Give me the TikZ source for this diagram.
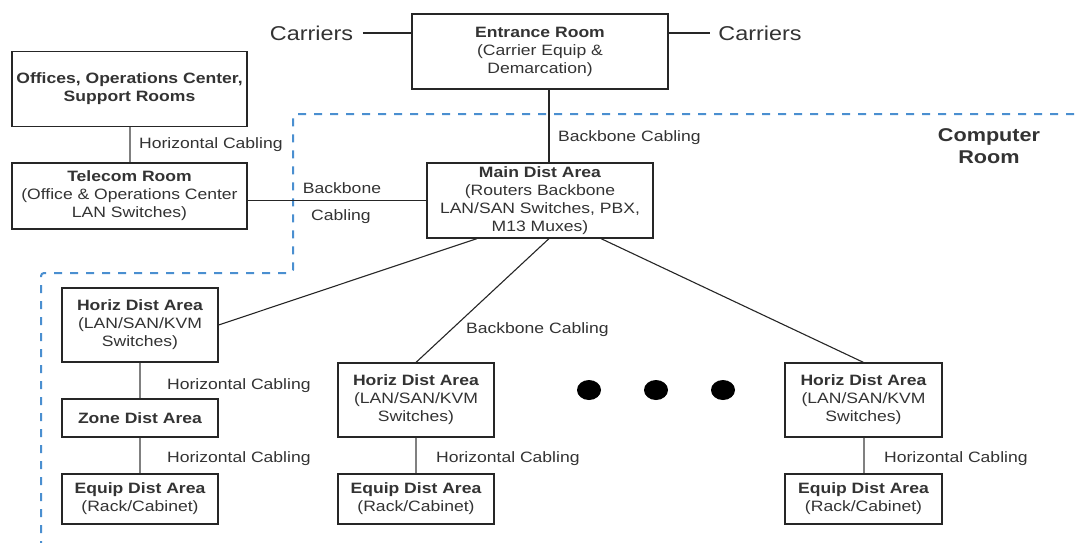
\documentclass[tikz,border=0pt]{standalone}
\usepackage{fontspec}
\setmainfont{Liberation Sans}[FakeStretch=1.17]
\usetikzlibrary{calc}
\definecolor{txt}{HTML}{333333}
\definecolor{bord}{HTML}{262626}
\definecolor{conn}{HTML}{808080}
\definecolor{roomblue}{HTML}{4A8FD0}
\begin{document}
\begin{tikzpicture}[x=1pt,y=-1pt,
  box/.style={draw=bord, line width=1.2pt, text=txt, align=center, inner sep=0pt, font=\fontsize{15}{18}\selectfont},
  lbl/.style={text=txt, inner sep=0pt, anchor=west, font=\fontsize{15}{18}\selectfont},
  carr/.style={text=txt, inner sep=0pt, font=\fontsize{20}{24}\selectfont},
  vline/.style={draw=conn, line width=2pt},
  dline/.style={draw=bord, line width=1.1pt},
  roomline/.style={draw=roomblue, line width=2pt, dash pattern=on 8pt off 8pt, rounded corners=3pt},
]
\useasboundingbox (0,0) rectangle (1076,542);
\clip (0,0) rectangle (1076,542);
\fill[white] (0,0) rectangle (1076,542);

% computer room boundary
\draw[roomline] (1090,114) -- (293,114) -- (293,273) -- (41,273) -- (41,560);

% boxes
\node[box, minimum width=256pt, minimum height=75pt] (ent) at (540,51.5) {\textbf{Entrance Room}\\(Carrier Equip \&\\Demarcation)};
\node[box, minimum width=235pt, minimum height=75pt] (off) at (129.5,89) {\textbf{Offices, Operations Center,}\\\textbf{Support Rooms}};
\node[box, minimum width=235pt, minimum height=66pt] (tel) at (129.5,196) {\textbf{Telecom Room}\\(Office \& Operations Center\\LAN Switches)};
\node[box, minimum width=226pt, minimum height=75pt] (main) at (540,200.5) {\textbf{Main Dist Area}\\(Routers Backbone\\LAN/SAN Switches, PBX,\\M13 Muxes)};
\node[box, minimum width=156pt, minimum height=74pt] (hda1) at (140,325) {\textbf{Horiz Dist Area}\\(LAN/SAN/KVM\\Switches)};
\node[box, minimum width=156pt, minimum height=38pt] (zone) at (140,418) {\textbf{Zone Dist Area}};
\node[box, minimum width=156pt, minimum height=50pt] (eda1) at (140,499) {\textbf{Equip Dist Area}\\(Rack/Cabinet)};
\node[box, minimum width=156pt, minimum height=74pt] (hda2) at (416,400) {\textbf{Horiz Dist Area}\\(LAN/SAN/KVM\\Switches)};
\node[box, minimum width=156pt, minimum height=50pt] (eda2) at (416,499) {\textbf{Equip Dist Area}\\(Rack/Cabinet)};
\node[box, minimum width=157pt, minimum height=74pt] (hda3) at (863.5,400) {\textbf{Horiz Dist Area}\\(LAN/SAN/KVM\\Switches)};
\node[box, minimum width=157pt, minimum height=50pt] (eda3) at (863.5,499) {\textbf{Equip Dist Area}\\(Rack/Cabinet)};

% carriers
\node[carr] (carl) at (311.5,33) {Carriers};
\node[carr] (carr) at (760,33) {Carriers};
\draw[dline] ([xshift=9.5pt]carl.east) -- (carl.east -| ent.west);
\draw[dline] (carr.west -| ent.east) -- ([xshift=-8pt]carr.west);

% computer room label
\node[text=txt, align=center, inner sep=0pt, font=\bfseries\fontsize{18.5}{22}\selectfont] (croom) at (989,146) {Computer\\Room};

% connectors
\draw[dline] ([xshift=9pt]ent.south) -- ([xshift=9pt]main.north);
\draw[dline] (tel.east |- main.west) -- (main.west);
\draw[vline] (off.south) -- (tel.north);
\draw[dline] ([xshift=-63pt]main.south) -- (hda1.east);
\draw[dline] ([xshift=9pt]main.south) -- (hda2.north);
\draw[dline] ([xshift=61pt]main.south) -- (hda3.north);
\draw[vline] (hda1.south) -- (zone.north);
\draw[vline] (zone.south) -- (eda1.north);
\draw[vline] (hda2.south) -- (eda2.north);
\draw[vline] (hda3.south) -- (eda3.north);

% labels
\node[lbl] (l1) at (139,145) {Horizontal Cabling};
\node[lbl] (l2) at (558,138) {Backbone Cabling};
\node[lbl, anchor=center] (l3) at (342,188) {Backbone};
\node[lbl, anchor=center] (l4) at (341,217) {Cabling};
\node[lbl] (l5) at (466,330) {Backbone Cabling};
\node[lbl] (l6) at (167,386) {Horizontal Cabling};
\node[lbl] (l7) at (167,459) {Horizontal Cabling};
\node[lbl] (l8) at (436,459) {Horizontal Cabling};
\node[lbl] (l9) at (884,459) {Horizontal Cabling};

% dots
\fill[black] (589,390) ellipse [x radius=12pt, y radius=10pt];
\fill[black] (656,390) ellipse [x radius=12pt, y radius=10pt];
\fill[black] (723,390) ellipse [x radius=12pt, y radius=10pt];
\end{tikzpicture}
\end{document}
